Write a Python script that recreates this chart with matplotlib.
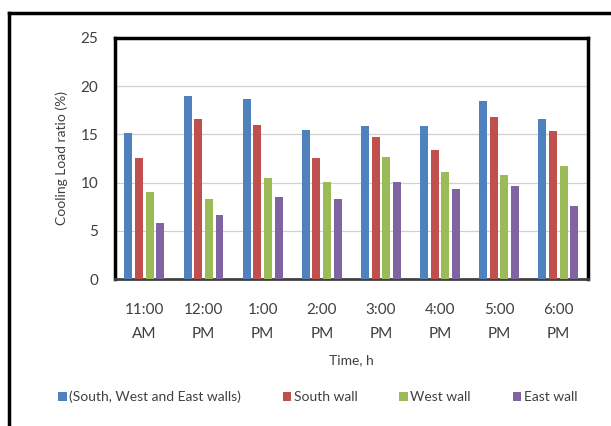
import numpy as np
import matplotlib
matplotlib.use("Agg")
import matplotlib.pyplot as plt
from matplotlib.lines import Line2D

plt.rcParams['font.family'] = ['Lato', 'DejaVu Sans']

times = ["11:00\nAM", "12:00\nPM", "1:00\nPM", "2:00\nPM", "3:00\nPM", "4:00\nPM", "5:00\nPM", "6:00\nPM"]
all_walls = [15.1, 19.0, 18.7, 15.5, 15.9, 15.9, 18.5, 16.6]
south_wall = [12.5, 16.6, 16.0, 12.5, 14.7, 13.4, 16.8, 15.3]
west_wall = [9.0, 8.3, 10.5, 10.1, 12.7, 11.1, 10.8, 11.7]
east_wall = [5.8, 6.6, 8.5, 8.3, 10.1, 9.3, 9.6, 7.6]

series = [("(South, West and East walls)", all_walls, "#4F81BD"),
          ("South wall", south_wall, "#C0504D"),
          ("West wall", west_wall, "#9BBB59"),
          ("East wall", east_wall, "#8064A2")]

fig = plt.figure(figsize=(6.11, 4.26), dpi=100)
ax = fig.add_axes([0.188, 0.345, 0.774, 0.566])

x = np.arange(len(times))
pitch = 0.18
width = 0.135
for i, (name, vals, col) in enumerate(series):
    ax.bar(x + (i - 1.5) * pitch, vals, width, color=col, label=name, zorder=3)

ax.set_ylim(0, 25)
ax.set_xlim(-0.5, len(times) - 0.5)
ax.set_yticks([0, 5, 10, 15, 20, 25])
ax.set_xticks(x)
ax.set_xticklabels(times, linespacing=1.9)
ax.tick_params(axis='both', length=0, labelsize=11, colors='#404040')
ax.tick_params(axis='x', pad=17)
ax.tick_params(axis='y', pad=12)
ax.grid(axis='y', color='#d0d0d0', linewidth=0.9, zorder=0)

for side in ['left', 'top', 'right']:
    ax.spines[side].set_linewidth(2.5)
    ax.spines[side].set_color('black')
ax.spines['bottom'].set_linewidth(2)
ax.spines['bottom'].set_color('#404040')

ax.set_ylabel("Cooling Load ratio (%)", fontsize=10, color='#404040', labelpad=9)
ax.set_xlabel("Time, h", fontsize=10, color='#404040', labelpad=10)

fig.legend(loc='center', bbox_to_anchor=(0.52, 0.068), ncol=4, frameon=False,
           fontsize=10, handlelength=0.6, handleheight=0.6, handletextpad=0.2,
           columnspacing=3.0, labelcolor='#404040')

# outer frame (left and top edges visible)
fig.add_artist(Line2D([0.014, 0.014], [0.0, 0.97], color='black', linewidth=2.5, transform=fig.transFigure))
fig.add_artist(Line2D([0.014, 1.0], [0.97, 0.97], color='black', linewidth=2.5, transform=fig.transFigure))

fig.savefig("out.png", dpi=100)
